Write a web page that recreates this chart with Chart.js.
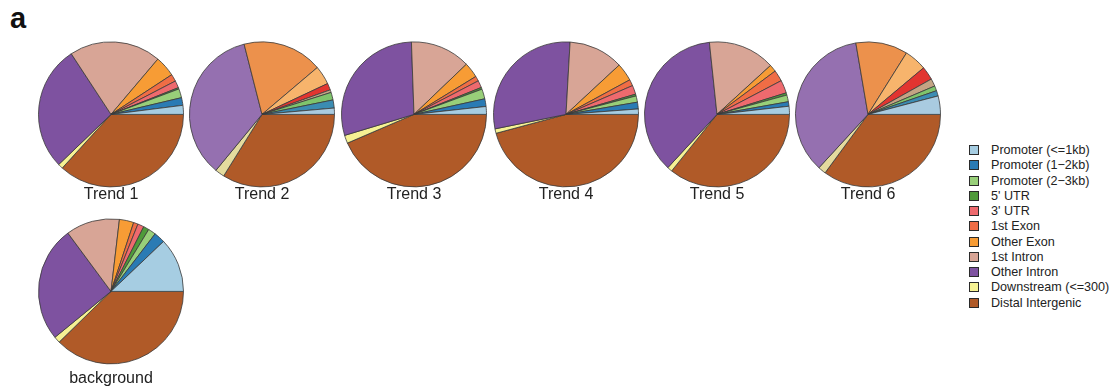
<!DOCTYPE html>
<html>
<head>
<meta charset="utf-8">
<script src="https://cdn.jsdelivr.net/npm/chart.js@4"></script>
<style>
  body { margin: 0; background: #fff; font-family: "Liberation Sans", Arial, sans-serif; }
  #wrap { position: relative; width: 1117px; height: 390px; overflow: hidden; }
  #tag { position: absolute; left: 10px; top: 2px; font-size: 29px; font-weight: bold; color: #111; }
  .pie { position: absolute; }
  #legend { position: absolute; left: 969px; top: 143px; font-size: 12.6px; color: #222; }
  #legend div { height: 15.25px; line-height: 15.25px; white-space: nowrap; }
  #legend span.sw { display: inline-block; width: 8px; height: 8px; border: 1.6px solid #2a2a2a; vertical-align: -1px; margin-right: 12px; }
</style>
</head>
<body>
<div id="wrap">
  <div id="tag">a</div>
  <div id="legend"></div>
</div>
<script>
// categories (legend order, drawn counter-clockwise from 3 o'clock)
const categories = ["Promoter (<=1kb)", "Promoter (1\u22122kb)", "Promoter (2\u22123kb)", "5' UTR", "3' UTR",
  "1st Exon", "Other Exon", "1st Intron", "Other Intron", "Downstream (<=300)", "Distal Intergenic"];

// percentages per group
const trend1 = [2.0, 1.7, 2.0, 0.3, 1.6, 1.6, 4.6, 20.4, 27.9, 1.1, 36.7];
const trend2 = [1.4, 1.8, 1.7, 0.6, 1.5, 0, 4.2, 17.8, 35.1, 2.1, 33.9];
const trend3 = [1.75, 1.7, 2.2, 0.4, 1.6, 1.1, 3.4, 13.4, 29.1, 1.8, 43.5];
const trend4 = [1.2, 1.5, 1.4, 0.4, 2.0, 1.4, 4.0, 12.2, 29.1, 1.0, 45.8];
const trend5 = [1.8, 1.0, 1.5, 0.5, 2.9, 2.5, 1.6, 14.9, 36.5, 1.1, 35.8];
const trend6 = [4.1, 1.2, 1.1, 1.7, 3.0, 0, 5.0, 11.6, 35.5, 1.75, 35.1];
const background = [12.1, 2.5, 1.7, 1.25, 1.4, 1.0, 3.2, 12.0, 25.8, 1.4, 37.7];

const groupLabels = ["Trend 1", "Trend 2", "Trend 3", "Trend 4", "Trend 5", "Trend 6", "background"];
const groupData = [trend1, trend2, trend3, trend4, trend5, trend6, background];

const paletteA = ["#a6cde2", "#2a7bb4", "#98cf79", "#4f9a3a", "#ee6a6e", "#f06d45", "#f79c35",
  "#d8a596", "#7e52a0", "#f6f293", "#b05a28"];
const paletteB = ["#a9cbe0", "#3b8cb2", "#7fc46c", "#c4a484", "#e23530", "#e23530", "#f7b46c",
  "#ec914c", "#9570b0", "#e4db9e", "#b05a28"];
const groupPalettes = [paletteA, paletteB, paletteA, paletteA, paletteA, paletteB, paletteA];

// legend
const legend = document.getElementById("legend");
categories.forEach((c, i) => {
  const row = document.createElement("div");
  row.innerHTML = '<span class="sw" style="background:' + paletteA[i] + '"></span>';
  row.appendChild(document.createTextNode(c));
  legend.appendChild(row);
});

// pie centres on the page
const centers = [[111, 114], [262, 114], [414, 114], [566, 114], [717, 114], [868, 114], [111, 291]];

const wrap = document.getElementById("wrap");
groupData.forEach((vals, g) => {
  const extra = g === 6 ? 9 : 2;
  const canvas = document.createElement("canvas");
  canvas.className = "pie";
  canvas.width = 152;
  canvas.height = 162 + extra;
  canvas.style.width = "152px";
  canvas.style.height = (162 + extra) + "px";
  canvas.style.left = (centers[g][0] - 76) + "px";
  canvas.style.top = (centers[g][1] - 74.4) + "px";
  wrap.appendChild(canvas);

  // reversed so the slices run counter-clockwise from 3 o'clock
  const data = vals.slice().reverse();
  const colors = groupPalettes[g].slice().reverse();
  const labels = categories.slice().reverse();

  new Chart(canvas.getContext("2d"), {
    type: "pie",
    data: {
      labels: labels,
      datasets: [{
        data: data,
        backgroundColor: colors,
        borderColor: "#3a3a3a",
        borderWidth: 0.8,
        radius: 72.5
      }]
    },
    options: {
      responsive: false,
      animation: false,
      rotation: 90,
      layout: { padding: { top: 6, left: 0, right: 0, bottom: 0 } },
      plugins: {
        legend: { display: false },
        tooltip: { enabled: false },
        title: {
          display: true,
          position: "bottom",
          text: groupLabels[g],
          color: "#222",
          font: { family: "'Liberation Sans', Arial, sans-serif", size: 16, weight: "normal", lineHeight: 1.2 },
          padding: { top: extra, bottom: 0 }
        }
      }
    }
  });
});
</script>
</body>
</html>
